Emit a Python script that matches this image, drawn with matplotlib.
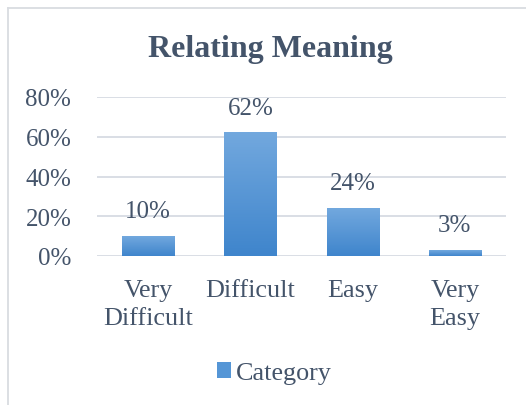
import numpy as np
import matplotlib.pyplot as plt
import matplotlib.colors as colors
from matplotlib.lines import Line2D

# data
categories = ['Very\nDifficult', 'Difficult', 'Easy', 'Very\nEasy']
values = [0.10, 0.62, 0.24, 0.03]
y_ticks = [0.0, 0.2, 0.4, 0.6, 0.8]
series_name = 'Category'
title = 'Relating Meaning'

TXT = '#44546A'
GRID = '#D9DEE5'
SERIF = ['Liberation Serif', 'DejaVu Serif']
plt.rcParams['font.family'] = SERIF

W, H = 526, 406
fig = plt.figure(figsize=(W / 100, H / 100), dpi=100)

# document heading above the chart, cropped so only descenders show
fig.text(205 / W, 1 + 9 / H, title, ha='right', va='baseline', fontsize=21,
         family=['Liberation Sans', 'DejaVu Sans'], color='black')

# chart border (extends past right and bottom edges)
fig.add_artist(Line2D([8 / W, 8 / W], [0, 1 - 9 / H], transform=fig.transFigure, color='#D9DCE1', lw=1.3))
fig.add_artist(Line2D([8 / W, 1], [1 - 9 / H, 1 - 9 / H], transform=fig.transFigure, color='#D9DCE1', lw=1.3))

ax = fig.add_axes([97 / W, 1 - 257 / H, (506 - 97) / W, (257 - 98) / H])
x = np.arange(len(categories))
bars = ax.bar(x, values, width=0.51, color='#5596D6', label=series_name, zorder=2)

# vertical gradient on each bar
cmap = colors.LinearSegmentedColormap.from_list('bar', ['#3F85CC', '#72A8DE'])
grad = np.linspace(0, 1, 100).reshape(-1, 1)
for b in bars:
    ax.imshow(grad, extent=[b.get_x(), b.get_x() + b.get_width(), 0, b.get_height()],
              origin='lower', aspect='auto', cmap=cmap, zorder=3)

ax.set_xlim(-0.5, len(categories) - 0.5)
ax.set_ylim(0, 0.8)
ax.set_yticks(y_ticks)
ax.set_yticklabels(['{:.0%}'.format(v) for v in y_ticks])
ax.set_xticks(x)
ax.set_xticklabels(categories, linespacing=1.38)
ax.tick_params(axis='y', length=0, pad=18.5, labelsize=18, labelcolor=TXT)
ax.tick_params(axis='x', length=0, pad=16.5, labelsize=18.8, labelcolor=TXT)
ax.yaxis.grid(True, color=GRID, lw=1.4, zorder=0)
ax.set_axisbelow(True)
for s in ax.spines.values():
    s.set_visible(False)

for b, v in zip(bars, values):
    ax.annotate('{:.0%}'.format(v), (b.get_x() + b.get_width() / 2, v),
                xytext=(0, 10), textcoords='offset points', ha='center', va='bottom',
                fontsize=18, color=TXT, annotation_clip=False)

fig.text(270 / W, 1 - 57 / H, title, ha='center', va='baseline', fontsize=23,
         fontweight='bold', color=TXT)

leg = fig.legend(handles=[bars], labels=[series_name], loc='center',
                 bbox_to_anchor=(274.5 / W, 1 - 374 / H), frameon=False,
                 prop={'family': SERIF, 'size': 18.8},
                 labelcolor=TXT, handlelength=0.54, handleheight=0.54, handletextpad=0.2)

fig.savefig('out.png', dpi=100, facecolor='white')
